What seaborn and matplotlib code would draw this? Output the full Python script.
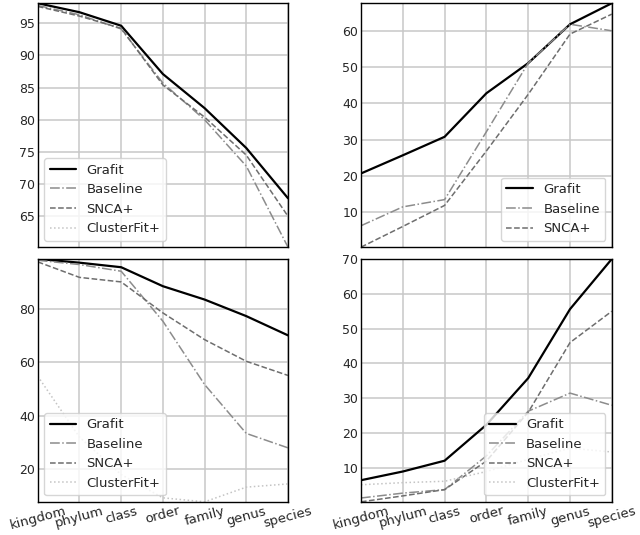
import numpy as np
import pandas as pd
import matplotlib
matplotlib.use("Agg")
import matplotlib.pyplot as plt
import seaborn as sns

ranks = ["kingdom", "phylum", "class", "order", "family", "genus", "species"]

# top-left panel
tl_grafit = [98.1, 96.7, 94.6, 87.1, 81.8, 75.6, 67.8]
tl_baseline = [97.75, 96.3, 94.1, 85.7, 80.0, 72.8, 60.2]
tl_snca = [97.6, 96.1, 94.2, 85.4, 80.4, 74.5, 65.0]

# top-right panel
tr_grafit = [20.7, 25.7, 30.8, 42.8, 51.1, 61.8, 67.6]
tr_baseline = [6.3, 11.5, 13.5, 32.2, 51.1, 61.8, 60.0]
tr_snca = [0.4, 6.1, 11.9, 26.9, 42.5, 59.1, 64.6]

# bottom-left panel
bl_grafit = [98.7, 97.3, 95.6, 88.5, 83.5, 77.3, 70.1]
bl_baseline = [98.2, 96.6, 94.1, 75.4, 51.7, 33.4, 28.0]
bl_snca = [97.6, 91.8, 90.1, 78.5, 68.5, 60.4, 55.1]
bl_clusterfit = [54.8, 32.0, 18.0, 9.3, 7.8, 13.3, 14.5]

# bottom-right panel
br_grafit = [6.5, 9.0, 12.1, 22.4, 35.8, 55.6, 70.0]
br_baseline = [1.4, 2.8, 3.8, 13.5, 26.3, 31.5, 28.0]
br_snca = [0.3, 2.0, 3.8, 12.0, 26.0, 46.0, 55.0]
br_clusterfit = [5.2, 5.8, 6.2, 9.0, 12.5, 15.7, 14.6]

styles = {
    "Grafit": dict(color="black", linestyle="-", linewidth=1.6),
    "Baseline": dict(color="#8c8c8c", linestyle="-.", linewidth=1.1),
    "SNCA+": dict(color="#6e6e6e", linestyle="--", linewidth=1.1),
    "ClusterFit+": dict(color="#c4c4c4", linestyle=":", linewidth=1.1),
}

sns.set_style("whitegrid")
plt.rcParams["font.family"] = ["DejaVu Sans"]

fig = plt.figure(figsize=(6.4, 5.35), dpi=100)
positions = {
    "tl": [0.059, 0.538, 0.391, 0.456],
    "tr": [0.564, 0.538, 0.392, 0.456],
    "bl": [0.059, 0.062, 0.391, 0.454],
    "br": [0.564, 0.062, 0.392, 0.454],
}

panels = {
    "tl": ({"Grafit": tl_grafit, "Baseline": tl_baseline, "SNCA+": tl_snca,
            "ClusterFit+": None}, "lower left", [65, 70, 75, 80, 85, 90, 95]),
    "tr": ({"Grafit": tr_grafit, "Baseline": tr_baseline, "SNCA+": tr_snca},
           "lower right", [10, 20, 30, 40, 50, 60]),
    "bl": ({"Grafit": bl_grafit, "Baseline": bl_baseline, "SNCA+": bl_snca,
            "ClusterFit+": bl_clusterfit}, "lower left", [20, 40, 60, 80]),
    "br": ({"Grafit": br_grafit, "Baseline": br_baseline, "SNCA+": br_snca,
            "ClusterFit+": br_clusterfit}, "lower right", [10, 20, 30, 40, 50, 60, 70]),
}

for key, (series, loc, yticks) in panels.items():
    ax = fig.add_axes(positions[key])
    xs = np.arange(len(ranks))
    for name, vals in series.items():
        if vals is None:
            # legend entry only, no line shown in this panel
            ax.plot([], [], label=name, **styles[name])
            continue
        df = pd.DataFrame({"rank": xs, "acc": vals})
        sns.lineplot(data=df, x="rank", y="acc", ax=ax, label=name, **styles[name])
    ax.margins(x=0, y=0)
    ax.set_xticks(xs)
    ax.set_yticks(yticks)
    ax.set_xlabel("")
    ax.set_ylabel("")
    ax.grid(True, color="#c8c8c8", linewidth=1.1)
    for sp in ax.spines.values():
        sp.set_color("black")
        sp.set_linewidth(1.0)
    ax.tick_params(axis="y", labelsize=9, pad=2, length=0)
    if key in ("bl", "br"):
        ax.set_xticklabels(ranks, rotation=15, fontsize=9.5, ha="center")
        ax.tick_params(axis="x", pad=2, length=0)
    else:
        ax.set_xticklabels([])
        ax.tick_params(axis="x", length=0)
    ax.legend(loc=loc, fontsize=9.5, frameon=True)

fig.savefig("out.png", dpi=100)
